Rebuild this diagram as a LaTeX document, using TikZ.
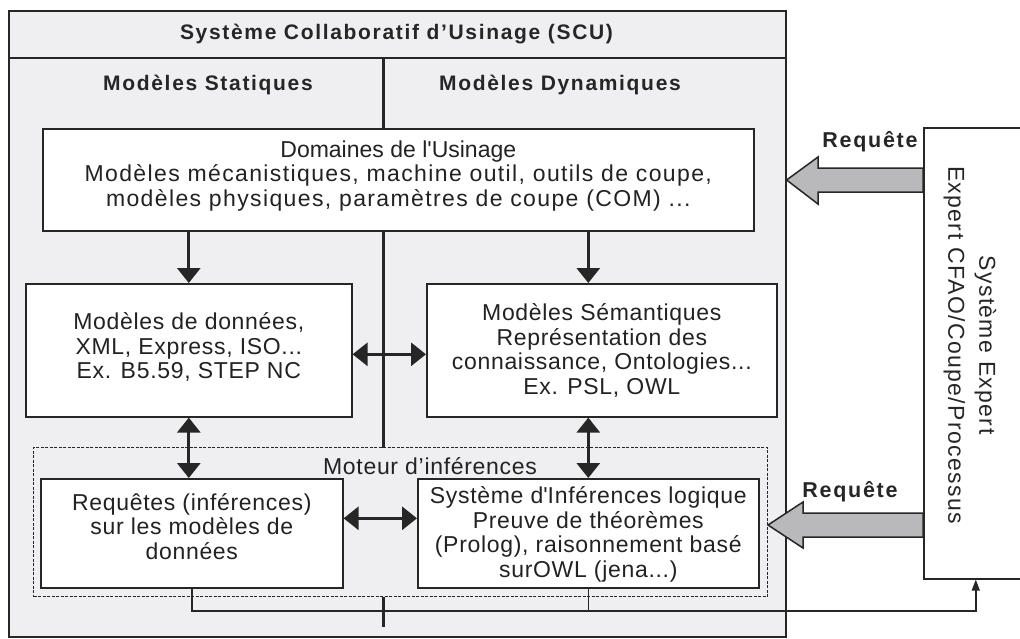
\documentclass[tikz,border=0pt]{standalone}
\usepackage{fontspec}
\setmainfont{Liberation Sans}
\newfontfamily\hdfont[LetterSpace=8]{Liberation Sans}
\newfontfamily\bodyfont[LetterSpace=3]{Liberation Sans}
\newfontfamily\widefont[LetterSpace=6]{Liberation Sans}
\usetikzlibrary{arrows.meta,calc}
\definecolor{panel}{RGB}{239,239,241}
\definecolor{ink}{RGB}{38,38,38}
\definecolor{blockgray}{RGB}{185,185,187}
\newcommand{\bodysize}{\bodyfont\fontsize{23}{24.5}\selectfont}
\newcommand{\headsize}{\hdfont\fontsize{21}{24}\selectfont\bfseries}
\tikzset{
  box/.style={draw=ink, line width=1.6pt, fill=white, inner sep=0pt, anchor=north west},
  boxtext/.style={align=center, font=\bodysize, inner sep=0pt, text=ink!90!black},
  heading/.style={font=\headsize, inner sep=0pt, text=ink},
  fatarrow/.style={draw=ink, line width=3pt, -{Triangle[width=23pt,length=15pt]}},
  fatdouble/.style={draw=ink, line width=3pt,
    {Triangle[width=23pt,length=15pt]}-{Triangle[width=23pt,length=15pt]}},
  thinlink/.style={draw=ink, line width=1.4pt},
  blockarrow/.style={draw=ink, line width=1.5pt, fill=blockgray, line join=miter},
}
\begin{document}
\begin{tikzpicture}[x=1pt,y=-1pt]
\useasboundingbox (0,0) rectangle (1020,638);
\clip (0,0) rectangle (1020,638);

% collaborative system frame
\node[draw=ink, line width=1.6pt, fill=panel, minimum width=777pt,
  minimum height=626pt, anchor=north west, inner sep=0pt] (scu) at (8,10) {};
\coordinate (sep) at (0,58);
\draw[ink, line width=1.6pt] (scu.west |- sep) -- (scu.east |- sep);
\node[heading] (title) at (396.5,34) {Système Collaboratif d’Usinage (SCU)};
\node[heading] (stat) at (208,85) {Modèles Statiques};
\node[heading] (dyn) at (560,85) {Modèles Dynamiques};

% column divider
\coordinate (divtop) at (383,58);
\coordinate (divbot) at (383,627);
\draw[ink, line width=3pt] (divtop) -- (divbot);

% inference engine area
\node[draw=ink, line width=1pt, dashed, dash pattern=on 3pt off 1.5pt,
  fill=panel, minimum width=734pt, minimum height=149pt, anchor=north west,
  inner sep=0pt] (engine) at (33,447) {};
\node[boxtext] (moteur) at (430,466) {Moteur d’inférences};

% model boxes
\node[box, minimum width=711pt, minimum height=102pt] (dom) at (42,128) {};
\node[boxtext] (domtxt) at ($(dom.center)+(0,-4)$)
  {{\rmfamily Domaines de l\textquotesingle Usinage}\\
   {\widefont Modèles mécanistiques, machine outil, outils de coupe,}\\
   {\widefont modèles physiques, paramètres de coupe (COM) ...}};
\node[box, minimum width=326pt, minimum height=133pt] (donnees) at (25,283) {};
\node[boxtext] (donneestxt) at ($(donnees.center)+(0,-3)$)
  {Modèles de données,\\ XML, Express, ISO...\\ Ex. B5.59, STEP NC};
\node[box, minimum width=350pt, minimum height=133pt] (sem) at (426,283) {};
\node[boxtext] (semtxt) at (sem.center)
  {Modèles Sémantiques\\ Représentation des\\ connaissance, Ontologies...\\ Ex. PSL, OWL};
\node[box, minimum width=302pt, minimum height=109pt] (requetes) at (40,478) {};
\node[boxtext] (requetestxt) at ($(requetes.center)+(0,-7)$)
  {Requêtes (inférences)\\ sur les modèles de\\ données};
\node[box, minimum width=341pt, minimum height=109pt] (sysinf) at (417,478) {};
\node[boxtext] (sysinftxt) at ($(sysinf.center)+(0,1)$)
  {Système d\textquotesingle Inférences logique\\ Preuve de théorèmes\\
   (Prolog), raisonnement basé\\ surOWL (jena...)};

% expert system
\node[draw=ink, line width=1.6pt, fill=white, minimum width=104pt,
  minimum height=451pt, anchor=north west, inner sep=0pt] (expert) at (923,127) {};
\node[align=center, rotate=-90, inner sep=0pt, text=ink,
  font=\widefont\fontsize{23}{31}\selectfont] (experttxt)
  at (970,345) {Système Expert\\ Expert CFAO/Coupe/Processus};

% flows between models
\draw[fatarrow] (donnees.north |- dom.south) -- (donnees.north);
\draw[fatarrow] (sysinf.north |- dom.south) -- (sysinf.north |- sem.north);
\draw[fatdouble] ([yshift=-4pt]donnees.east) -- ([yshift=-4pt]sem.west |- donnees.east);
\draw[fatdouble] (donnees.south) -- (donnees.south |- requetes.north);
\draw[fatdouble] (sysinf.north |- sem.south) -- (sysinf.north);
\draw[fatdouble] ([yshift=15pt]requetes.east) -- ([yshift=15pt]sysinf.west |- requetes.east);

% results sent to the expert system
\draw[thinlink, -{Triangle[width=8pt,length=11pt]}]
  (requetes.south) -- (requetes.south |- 0,611) -| (expert.south);
\draw[thinlink] (sysinf.south) -- (sysinf.south |- 0,611);

% queries from the expert system
\path[blockarrow] (expert.west |- 0,168) -- (818,168) -- (818,157)
  -- (scu.east |- 0,180) -- (818,204) -- (818,192) -- (expert.west |- 0,192) -- cycle;
\path[blockarrow] (expert.west |- 0,513) -- (803,513) -- (803,502)
  -- (engine.east |- 0,525) -- (803,548) -- (803,537) -- (expert.west |- 0,537) -- cycle;
\node[heading, font=\hdfont\fontsize{21.5}{24}\selectfont\bfseries] (req1) at (870,142) {Requête};
\node[heading, font=\hdfont\fontsize{21.5}{24}\selectfont\bfseries] (req2) at (850,492) {Requête};
\end{tikzpicture}
\end{document}
